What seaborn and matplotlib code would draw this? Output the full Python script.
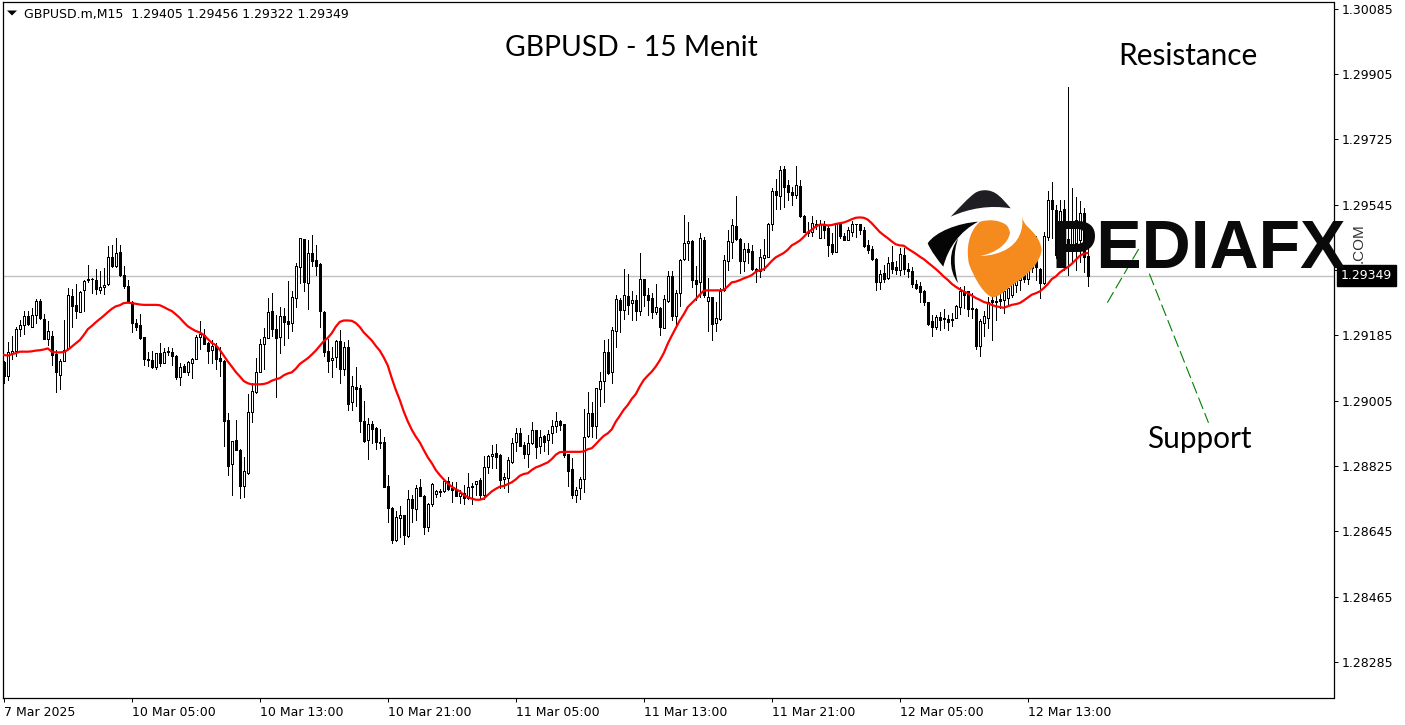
import numpy as np
import matplotlib
matplotlib.use('Agg')
import matplotlib.pyplot as plt
from matplotlib.path import Path
from matplotlib.patches import PathPatch, Polygon
import seaborn as sns

# prices in points (1e-5)
opens = [
    129111,129074,129136,129141,129202,129214,129238,129209,129240,129279,
    129230,129176,129183,129134,129077,129114,129149,129294,129269,129250,
    129309,129337,129339,129337,129309,129317,129326,129402,129375,129414,
    129351,129321,129278,129219,129213,129180,129120,129117,129098,129136,
    129110,129141,129139,129129,129069,129100,129085,129108,129121,129180,
    129186,129165,129146,129157,129122,129114,128952,128830,128897,128869,
    128771,128805,128975,129028,129084,129161,129179,129253,129203,129180,
    129238,129224,129219,129289,129373,129450,129329,129412,129392,129382,
    129250,129142,129116,129124,129170,129091,129152,129001,129042,129039,
    128948,128896,128940,128930,128890,128891,128769,128709,128622,128681,
    128689,128633,128733,128706,128767,128742,128658,128719,128747,128754,
    128756,128784,128764,128759,128743,128750,128736,128768,128776,128787,
    128745,128822,128852,128860,128856,128789,128793,128837,128891,128915,
    128883,128857,128888,128924,128879,128907,128896,128915,128934,128948,
    128940,128857,128817,128746,128763,128788,128908,128970,128934,129037,
    129060,129139,129083,129196,129282,129255,129293,129274,129282,129253,
    129340,129297,129287,129248,129261,129206,129281,129348,129237,129301,
    129395,129439,129446,129338,129332,129448,129281,129290,129219,129231,
    129309,129389,129442,129487,129450,129391,129423,129418,129367,129361,
    129397,129402,129492,129583,129568,129643,129599,129581,129572,129596,
    129515,129471,129469,129492,129452,129492,129481,129436,129416,129492,
    129459,129448,129471,129491,129492,129476,129435,129424,129396,129331,
    129356,129343,129387,129374,129364,129407,129369,129363,129327,129322,
    129308,129276,129225,129207,129235,129233,129231,129230,129234,129263,
    129308,129306,129259,129258,129157,129219,129234,129282,129280,129286,
    129283,129288,129297,129324,129338,129366,129341,129371,129393,129368,
    129330,129457,129559,129531,129435,129534,129451,129429,129440,129448,129523,129405,
]
highs = [
    129113,129168,129182,129209,129228,129253,129251,129260,129285,129285,
    129243,129224,129196,129145,129119,129228,129315,129312,129327,129306,
    129338,129379,129343,129367,129361,129370,129430,129435,129453,129435,
    129377,129338,129280,129230,129243,129181,129140,129142,129136,129163,
    129150,129152,129150,129131,129110,129106,129115,129122,129186,129224,
    129203,129168,129171,129163,129154,129116,128971,128895,128952,128871,
    128849,129024,129053,129122,129174,129205,129288,129301,129242,129263,
    129260,129335,129308,129384,129453,129451,129448,129462,129435,129384,
    129251,129174,129154,129173,129200,129168,129173,129072,129098,129049,
    129004,128957,128948,128932,128926,128904,128800,128711,128702,128715,
    128690,128759,128745,128773,128788,128745,128722,128777,128759,128761,
    128787,128796,128782,128782,128759,128773,128805,128777,128785,128791,
    128853,128856,128883,128886,128857,128805,128849,128902,128929,128929,
    128890,128911,128947,128925,128925,128911,128925,128952,128974,128952,
    128941,128858,128846,128768,128794,128981,129028,129000,129041,129083,
    129173,129174,129208,129297,129287,129367,129355,129306,129297,129412,
    129341,129315,129301,129327,129263,129297,129363,129363,129310,129395,
    129517,129497,129448,129375,129467,129455,129343,129290,129276,129315,
    129407,129476,129505,129568,129453,129439,129439,129435,129370,129423,
    129450,129494,129591,129616,129651,129652,129614,129595,129652,129614,
    129517,129497,129513,129502,129502,129501,129490,129467,129496,129494,
    129467,129483,129499,129493,129493,129483,129448,129430,129397,129366,
    129379,129401,129432,129389,129425,129425,129384,129373,129338,129331,
    129311,129277,129242,129240,129248,129257,129242,129246,129269,129318,
    129322,129308,129301,129260,129230,129251,129292,129311,129306,129311,
    129320,129347,129448,129407,129407,129388,129385,129421,129460,129371,
    129470,129584,129608,129545,129559,129559,129870,129592,129567,129554,129537,129456,
]
lows = [
    129055,129062,129119,129129,129182,129189,129213,129208,129219,129230,
    129175,129159,129102,129030,129038,129113,129148,129207,129234,129249,
    129251,129333,129303,129298,129301,129300,129324,129373,129373,129349,
    129315,129278,129193,129200,129176,129102,129101,129096,129092,129101,
    129108,129131,129104,129065,129047,129083,129076,129067,129119,129147,
    129162,129108,129108,129092,129074,128879,128799,128746,128868,128736,
    128739,128804,128946,129027,129083,129092,129177,129182,129014,129136,
    129159,129177,129198,129263,129329,129306,129257,129375,129350,129207,
    129127,129085,129069,129099,129055,129076,128978,128980,128991,128920,
    128892,128845,128888,128872,128874,128766,128672,128614,128619,128630,
    128609,128630,128672,128676,128741,128637,128646,128715,128739,128743,
    128752,128759,128727,128741,128724,128721,128733,128720,128745,128736,
    128733,128805,128819,128819,128764,128764,128754,128834,128865,128879,
    128846,128823,128886,128848,128860,128865,128857,128888,128920,128924,
    128851,128770,128736,128727,128734,128752,128906,128906,128902,128989,
    129001,129079,129053,129154,129193,129230,129244,129228,129228,129242,
    129265,129242,129232,129244,129185,129204,129278,129226,129211,129265,
    129393,129393,129317,129283,129292,129292,129198,129171,129196,129226,
    129306,129366,129398,129448,129358,129361,129384,129366,129331,129347,
    129366,129401,129474,129533,129533,129538,129559,129545,129563,129510,
    129469,129459,129458,129478,129452,129453,129405,129410,129414,129453,
    129447,129447,129459,129455,129464,129428,129412,129393,129311,129312,
    129332,129341,129358,129355,129352,129355,129347,129318,129312,129278,
    129269,129214,129184,129202,129200,129205,129200,129211,129232,129244,
    129260,129237,129232,129148,129127,129182,129205,129173,129228,129260,
    129246,129265,129291,129305,129310,129333,129327,129360,129338,129288,
    129327,129448,129454,129399,129399,129366,129352,129388,129366,129388,129360,129322,
]
closes = [
    129073,129140,129142,129202,129213,129238,129215,129241,129279,129234,
    129176,129197,129132,129083,129114,129146,129296,129265,129251,129305,
    129336,129340,129341,129314,129317,129325,129401,129377,129412,129352,
    129322,129280,129218,129209,129179,129121,129118,129098,129135,129110,
    129139,129138,129129,129069,129099,129084,129111,129121,129180,129188,
    129162,129143,129156,129120,129113,128948,128826,128894,128868,128771,
    128811,128973,129031,129083,129161,129180,129249,129203,129179,129237,
    129221,129217,129290,129376,129453,129332,129412,129389,129377,129251,
    129140,129113,129122,129169,129091,129152,128997,129045,129038,128948,
    128894,128940,128927,128890,128888,128766,128710,128622,128684,128689,
    128636,128733,128708,128765,128743,128658,128721,128775,128755,128756,
    128784,128761,128759,128741,128750,128736,128766,128771,128783,128745,
    128822,128852,128857,128851,128787,128794,128842,128888,128915,128881,
    128857,128888,128924,128876,128904,128892,128912,128934,128948,128938,
    128854,128812,128746,128758,128788,128906,128970,128934,129039,129060,
    129140,129081,129199,129285,129255,129295,129269,129282,129253,129340,
    129295,129283,129248,129263,129207,129285,129348,129237,129301,129392,
    129439,129445,129337,129327,129453,129297,129290,129215,129232,129306,
    129392,129445,129489,129451,129391,129423,129416,129367,129361,129401,
    129406,129492,129582,129571,129640,129595,129579,129571,129599,129515,
    129469,129467,129494,129489,129492,129476,129435,129415,129492,129459,
    129448,129476,129492,129492,129476,129430,129421,129396,129331,129354,
    129341,129384,129368,129366,129409,129367,129363,129327,129316,129305,
    129276,129217,129207,129235,129226,129230,129222,129226,129266,129308,
    129297,129259,129260,129157,129225,129239,129278,129278,129278,129280,
    129306,129315,129338,129352,129371,129341,129375,129407,129374,129330,
    129459,129559,129534,129407,129528,129426,129435,129490,129503,129523,129400,129349,
]
ma_line = [
    129131,129129,129133,129136,129140,129140,129140,129141,129143,129144,
    129146,129149,129140,129138,129138,129139,129145,129154,129163,129172,
    129186,129202,129211,129221,129230,129239,129249,129258,129265,129268,
    129274,129275,129274,129272,129270,129269,129269,129269,129269,129268,
    129263,129257,129252,129243,129233,129221,129210,129203,129197,129193,
    129186,129175,129164,129158,129145,129129,129113,129099,129084,129072,
    129059,129053,129050,129050,129050,129051,129054,129060,129064,129067,
    129075,129080,129083,129093,129106,129114,129122,129132,129143,129156,
    129169,129178,129191,129209,129222,129226,129226,129225,129219,129208,
    129193,129182,129171,129156,129143,129124,129102,129067,129035,129007,
    128975,128948,128925,128906,128890,128869,128849,128833,128814,128800,
    128788,128777,128768,128761,128755,128745,128739,128735,128732,128732,
    128735,128745,128755,128762,128768,128770,128775,128780,128788,128798,
    128803,128805,128814,128821,128825,128830,128835,128844,128856,128863,
    128864,128864,128864,128864,128864,128865,128871,128874,128885,128897,
    128908,128915,128926,128947,128963,128980,128993,129010,129023,129044,
    129062,129074,129085,129099,129116,129136,129162,129184,129205,129226,
    129243,129263,129274,129285,129297,129308,129309,129309,129309,129309,
    129310,129320,129331,129333,129337,129342,129346,129351,129360,129365,
    129367,129378,129390,129400,129406,129412,129421,129433,129439,129446,
    129456,129469,129476,129485,129490,129490,129488,129489,129492,129494,
    129496,129500,129505,129509,129510,129509,129504,129494,129482,129470,
    129461,129453,129444,129436,129433,129432,129424,129417,129410,129402,
    129395,129386,129377,129368,129358,129347,129338,129327,129319,129312,
    129306,129301,129295,129288,129283,129277,129274,129269,129265,129263,
    129261,129265,129269,129271,129274,129281,129289,129297,129301,129306,
    129315,129326,129340,129347,129358,129366,129373,129382,129393,129404,129410,129412,
]

price_ticks = [130085, 129905, 129725, 129545, 129365, 129185, 129005, 128825, 128645, 128465, 128285]
last_price = 129349
time_ticks = [0, 32, 64, 96, 128, 160, 192, 224, 256]
time_labels = ['7 Mar 2025', '10 Mar 05:00', '10 Mar 13:00', '10 Mar 21:00', '11 Mar 05:00',
               '11 Mar 13:00', '11 Mar 21:00', '12 Mar 05:00', '12 Mar 13:00']

# the two green trend lines drawn on the chart: (bar, price)
trend_up_bars = [275.9, 283.9]
trend_up_prices = [129275, 129426]
trend_down_bars = [286.4, 301.2]
trend_down_prices = [129355, 128944]

header = 'GBPUSD.m,M15  1.29405 1.29456 1.29322 1.29349'

W, H = 1405, 725
sns.set_theme(style='white')
plt.rcParams['font.family'] = ['DejaVu Sans']

opens, highs, lows, closes, ma_line = [np.array(a) / 1e5 for a in (opens, highs, lows, closes, ma_line)]
bars = np.arange(len(closes))

fig = plt.figure(figsize=(W / 100, H / 100), dpi=100, facecolor='white')
ax = fig.add_axes([2.5 / W, 1 - 698 / H, 1331 / W, 696 / H])

# grey last price line, then wicks, bodies and the moving average
ax.axhline(last_price / 1e5, color='#c0c0c0', lw=1, zorder=1)
ax.vlines(bars, lows, highs, color='black', lw=0.72, antialiased=False, zorder=2)
body_low = np.minimum(opens, closes)
body_h = np.abs(closes - opens)
body_col = ['white' if c >= o else 'black' for o, c in zip(opens, closes)]
ax.bar(bars, body_h, bottom=body_low, width=0.5, color=body_col, edgecolor='black',
       linewidth=0.72, antialiased=False, zorder=3)
sns.lineplot(x=bars, y=ma_line, color='#ff0000', lw=1.6, errorbar=None, ax=ax, zorder=4)

ax.plot(trend_up_bars, np.array(trend_up_prices) / 1e5, color='#008000', lw=0.8, dashes=(11, 4), zorder=5)
ax.plot(trend_down_bars, np.array(trend_down_prices) / 1e5, color='#008000', lw=0.8, dashes=(11, 4), zorder=5)

ax.set_xlim(-0.325, 332.45)
ax.set_ylim((130110 - 2.757 * 698) / 1e5, (130110 - 2.757 * 2.3) / 1e5)
ax.yaxis.tick_right()
ax.set_yticks([p / 1e5 for p in price_ticks])
ax.set_yticklabels(['%.5f' % (p / 1e5) for p in price_ticks], fontsize=9, color='black')
ax.set_xticks(time_ticks)
ax.set_xticklabels(time_labels, fontsize=9, color='black', ha='left')
ax.tick_params(axis='both', length=3.2, width=0.72, color='black', pad=2.5, bottom=True, right=True)
ax.set_xlabel('')
ax.set_ylabel('')
for spine in ax.spines.values():
    spine.set_color('black')
    spine.set_linewidth(0.9)

ax.annotate('%.5f' % (last_price / 1e5), xy=(1, last_price / 1e5), xycoords=('axes fraction', 'data'),
            xytext=(5.2, 0), textcoords='offset points', va='center', ha='left', fontsize=9, color='white',
            annotation_clip=False, bbox=dict(boxstyle='square,pad=0.33', fc='black', ec='black'), zorder=10)

# overlay in image pixels for the header, captions and logo
top = fig.add_axes([0, 0, 1, 1], facecolor='none')
top.set_xlim(0, W)
top.set_ylim(H, 0)
top.axis('off')

top.add_patch(Polygon([(7, 10.5), (17, 10.5), (12, 15.5)], closed=True, fc='black', ec='none'))
top.text(24, 14, header, fontsize=9.02, va='center', ha='left', color='black')

hand = ['Lato', 'DejaVu Sans']
top.text(631, 48, 'GBPUSD - 15 Menit', fontsize=20.3, family=hand, ha='center', va='center', color='black')
top.text(1187.5, 56, 'Resistance', fontsize=21.4, family=hand, ha='center', va='center', color='black')
top.text(1199.5, 439, 'Support', fontsize=21.4, family=hand, ha='center', va='center', color='black')

MV, CV, LN, CL = Path.MOVETO, Path.CURVE4, Path.LINETO, Path.CLOSEPOLY


def shape(start, segs, color):
    verts = [start]
    codes = [MV]
    for s in segs:
        verts += s
        codes += [CV, CV, CV] if len(s) == 3 else [LN]
    verts.append(start)
    codes.append(CL)
    top.add_patch(PathPatch(Path(verts, codes), fc=color, ec='none', zorder=6))


# cap
shape((950.7, 216.7), [[(960, 207), (968, 198), (975, 193)], [(981, 189), (991, 189), (998, 195)],
                       [(1003, 199), (1007, 204), (1010.7, 208.3)], [(990, 205), (970, 208), (950.7, 216.7)]], '#1f1f23')
# left wing and inner stroke
shape((927.7, 243.3), [[(935, 232), (958, 223), (978.3, 221.7)], [(960, 231), (948, 248), (943.3, 266.7)],
                       [(937, 259), (931, 251), (927.7, 243.3)]], '#050505')
shape((958.3, 238.3), [[(949, 250), (948, 270), (958, 283)], [(954, 268), (953, 252), (958.3, 238.3)]], '#050505')
# orange body
shape((980, 221.7), [[(990, 219), (1000, 220), (1008, 226)], [(1021.7, 213.3)],
                     [(1022, 220), (1025, 224), (1027, 226)], [(1033, 232), (1040, 238), (1041.7, 250)],
                     [(1040, 262), (1030, 273), (1018, 281)], [(1008, 288), (1000, 297), (993, 297.3)],
                     [(985, 296), (975, 280), (969, 264)], [(966, 250), (968, 232), (980, 221.7)]], '#f58a1f')
# white crescent cut
shape((980, 256), [[(996, 253), (1008, 244), (1010, 233)], [(1009, 226), (1004, 222), (1000, 219)],
                   [(1021.7, 209)], [(1024, 225), (1022, 238), (1010, 247)], [(1002, 253), (990, 256), (980, 256)]], 'white')

top.text(1198.5, 242.5, 'PEDIAFX', fontsize=49, fontweight='bold', family='Liberation Sans',
         ha='center', va='center_baseline', color='#0a0a0a', zorder=7)
top.text(1359, 243.5, '.COM', fontsize=11, family='Liberation Sans', rotation=90, ha='center', va='center',
         color='#333333', zorder=7)

fig.savefig('out.png', dpi=100)
